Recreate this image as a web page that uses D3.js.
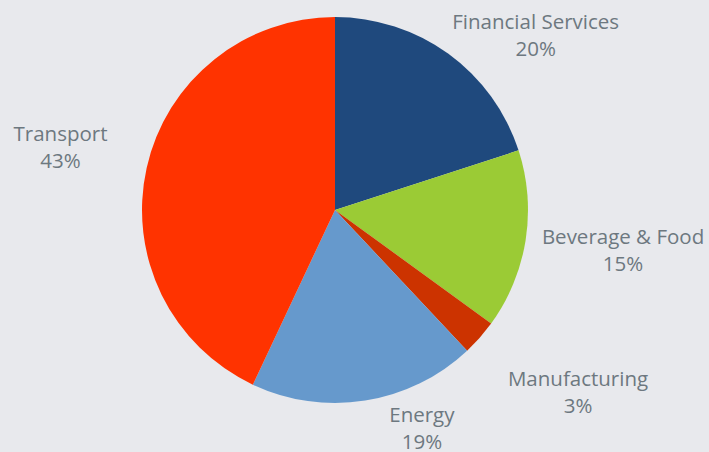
<!DOCTYPE html>
<html>
<head>
<meta charset="utf-8">
<script src="https://cdn.jsdelivr.net/npm/d3@7"></script>
<style>
	html, body { margin: 0; padding: 0; background: #e8e9ed; }
	svg { display: block; }
</style>
</head>
<body>
<script>
// Chart data
const sectors = ["Financial Services", "Beverage & Food", "Manufacturing", "Energy", "Transport"];
const shares = [20, 15, 3, 19, 43];
const sectorColors = ["#1f497d", "#9bcb35", "#cc3300", "#6699cc", "#ff3300"];

const width = 709;
const height = 452;
const cx = 335;
const cy = 210;
const radius = 193;

// Label placement: angle in degrees from top, distance from centre (first baseline)
const labelPlace = [
	[48.0, 270],
	[96.7, 290],
	[125.9, 300],
	[157.7, 229],
	[284.1, 283],
];

const svg = d3.select("body").append("svg").attr("width", width).attr("height", height);

const pie = d3.pie().sort(null).value((d) => d.value);
const arc = d3.arc().innerRadius(0).outerRadius(radius);

const rows = sectors.map((s, i) => ({ name: s, value: shares[i], color: sectorColors[i] }));
const arcs = pie(rows);

const g = svg.append("g").attr("transform", `translate(${cx}, ${cy})`);

g.selectAll("path")
	.data(arcs)
	.enter()
	.append("path")
	.attr("d", arc)
	.attr("fill", (d) => d.data.color);

// Labels
const total = d3.sum(shares);
const labels = g
	.selectAll(".label")
	.data(arcs)
	.enter()
	.append("text")
	.attr("class", "label")
	.attr("text-anchor", "middle")
	.attr("fill", "#6d7880")
	.style("font-family", "'Open Sans', 'Noto Sans', sans-serif")
	.style("font-size", "20.5px")
	.attr("transform", (d, i) => {
		const a = (labelPlace[i][0] * Math.PI) / 180;
		const r = labelPlace[i][1];
		return `translate(${r * Math.sin(a)}, ${-r * Math.cos(a)})`;
	});

labels.append("tspan").attr("x", 0).attr("y", 0).text((d) => d.data.name);
labels
	.append("tspan")
	.attr("x", 0)
	.attr("y", 27)
	.text((d) => Math.round((d.data.value / total) * 100) + "%");
</script>
</body>
</html>
